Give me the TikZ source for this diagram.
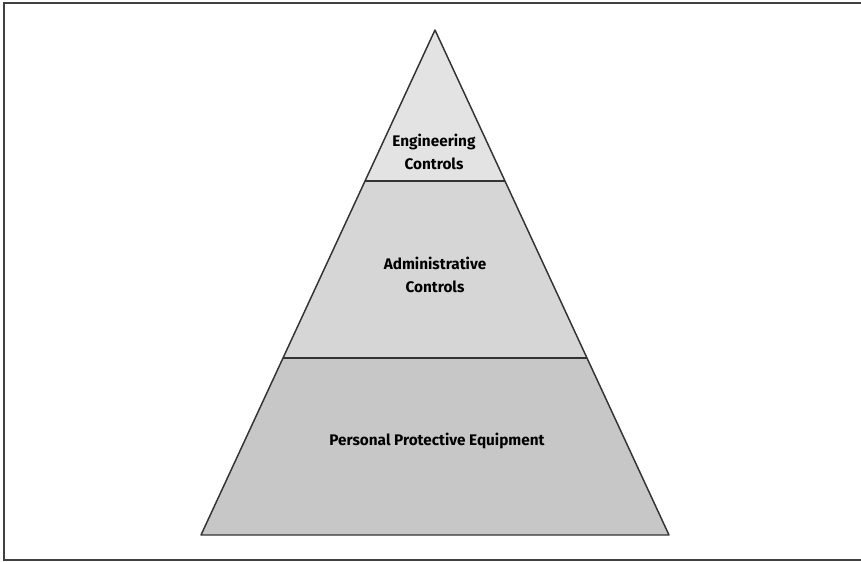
\documentclass[tikz,border=0pt]{standalone}
\usepackage{fontspec}
\setmainfont{Fira Sans}
\definecolor{tiertop}{gray}{0.89}
\definecolor{tiermid}{gray}{0.84}
\definecolor{tierbot}{gray}{0.78}
\tikzset{
  tier/.style={draw=black!80,line width=1.1pt,line join=round},
  tierlabel/.style={align=center,font=\fontsize{11.5}{17.5}\selectfont\bfseries,text=black}
}
\begin{document}
\begin{tikzpicture}[x=0.75pt,y=-0.75pt]
  \useasboundingbox (0,0) rectangle (861,561);
  \draw[black!75,line width=1.5pt] (861,3) -- (4,3) -- (4,560) -- (861,560);
  \coordinate (apex) at (435,30);
  \coordinate (bl) at (201,535);
  \coordinate (br) at (669,535);
  \coordinate (l1) at (365,181);
  \coordinate (r1) at (505,181);
  \coordinate (l2) at (283,358);
  \coordinate (r2) at (587,358);
  \fill[tiertop] (apex) -- (r1) -- (l1) -- cycle;
  \fill[tiermid] (l1) -- (r1) -- (r2) -- (l2) -- cycle;
  \fill[tierbot] (l2) -- (r2) -- (br) -- (bl) -- cycle;
  \draw[tier] (apex) -- (br) -- (bl) -- cycle;
  \draw[tier] (l1) -- (r1);
  \draw[tier] (l2) -- (r2);
  \node[tierlabel] (eng) at (434,152) {Engineering\\Controls};
  \node[tierlabel] (adm) at (435,275) {Administrative\\Controls};
  \node[tierlabel] (ppe) at (437,441) {Personal Protective Equipment};
\end{tikzpicture}
\end{document}
